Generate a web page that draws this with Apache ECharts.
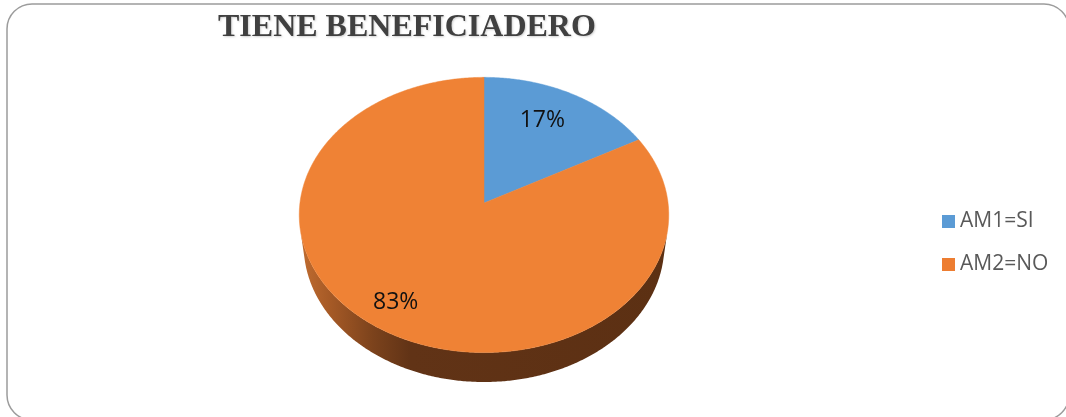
<!DOCTYPE html>
<html><head><meta charset="utf-8">
<script src="https://cdn.jsdelivr.net/npm/echarts@6/dist/echarts.min.js"></script>
<style>html,body{margin:0;padding:0;background:#fff}#c{width:1066px;height:417px}</style>
</head><body><div id="c"></div>
<script>
const TITLE = 'TIENE BENEFICIADERO';
const CATEGORIES = ['AM1=SI', 'AM2=NO'];
const VALUES = [17, 83];

// style / layout (not data)
const TOP_COLORS = ['#5B9BD5', '#EF8235'];
const LEGEND_COLORS = ['#5B9BD5', '#ED7D31'];
const SIDE_STOPS = [
  [{offset:0,color:'#3f6d98'},{offset:1,color:'#2c4d6c'}],
  [{offset:0,color:'#C06C30'},{offset:0.08,color:'#A65A26'},{offset:0.2,color:'#7B421C'},{offset:0.3,color:'#613316'},{offset:1,color:'#5C3013'}]
];
const LABEL_LAYOUT = [[0.72, -2.9], [0.82, 2.8]]; // radius fraction, angle offset (deg)

// perspective projection of a tilted disc
const CX = 484, CY = 203, F = 1419, D = 7.71, H = 0.2533;
const PHI = 47.9 * Math.PI / 180, C = Math.cos(PHI), S = Math.sin(PHI);
function proj(th, r, y) {
  const X = r * Math.sin(th), Z = r * Math.cos(th);
  const yc = y * C + Z * S, zc = D + Z * C - y * S;
  return [CX + F * X / zc, CY - F * yc / zc];
}
const TOTAL = VALUES.reduce((a, b) => a + b, 0);
const TV1 = Math.acos(-1 / (D * C)), TV2 = 2 * Math.PI - TV1;

function arc(a, b, r, y) {
  const pts = [];
  const n = Math.max(2, Math.ceil(Math.abs(b - a) / (Math.PI / 360)));
  for (let k = 0; k <= n; k++) pts.push(proj(a + (b - a) * k / n, r, y));
  return pts;
}

function makeRender(i) {
  return function (params, api) {
    const v = api.value(0);
    let s = 0; for (let k = 0; k < i; k++) s += VALUES[k];
    const a = s / TOTAL * 2 * Math.PI, b = (s + v) / TOTAL * 2 * Math.PI;
    const children = [];
    const lo = Math.max(a, TV1), hi = Math.min(b, TV2);
    if (lo < hi) {
      const side = arc(lo, hi, 1, 0).concat(arc(hi, lo, 1, -H));
      children.push({
        type: 'polygon', z2: 1,
        shape: { points: side },
        style: { fill: new echarts.graphic.LinearGradient(0, 0, 1, 0, SIDE_STOPS[i]), stroke: null }
      });
    }
    const top = [proj(0, 0, 0)].concat(arc(a, b, 1, 0));
    children.push({
      type: 'polygon', z2: 10,
      shape: { points: top },
      style: { fill: TOP_COLORS[i], stroke: TOP_COLORS[i], lineWidth: 0.5 }
    });
    const mid = (a + b) / 2 + LABEL_LAYOUT[i][1] * Math.PI / 180;
    const p = proj(mid, LABEL_LAYOUT[i][0], 0);
    children.push({
      type: 'text', z2: 20,
      x: p[0], y: p[1],
      style: {
        text: Math.round(v / TOTAL * 100) + '%',
        fill: '#111', font: '23px "Open Sans"',
        align: 'center', verticalAlign: 'middle'
      }
    });
    return { type: 'group', children: children };
  };
}

const chart = echarts.init(document.getElementById('c'), null, { renderer: 'canvas' });
chart.setOption({
  animation: false,
  backgroundColor: '#fff',
  title: {
    text: TITLE, left: 218, top: 12, padding: 0,
    textStyle: {
      fontFamily: 'Liberation Serif', fontWeight: 'bold', fontSize: 32, color: '#404040',
      textShadowColor: 'rgba(0,0,0,0.18)', textShadowBlur: 2, textShadowOffsetX: 1, textShadowOffsetY: 1
    }
  },
  legend: {
    data: CATEGORIES, orient: 'vertical', left: 942, top: 211,
    itemWidth: 13, itemHeight: 13, itemGap: 22, icon: 'rect', padding: 0,
    textStyle: { fontFamily: 'Open Sans', fontSize: 21, color: '#595959', lineHeight: 21 }
  },
  graphic: [{
    type: 'rect', z: -1, silent: true,
    shape: { x: 7, y: 4, width: 1062, height: 416, r: 25 },
    style: { fill: null, stroke: '#9c9c9c', lineWidth: 1.5 }
  }],
  series: CATEGORIES.map((name, i) => ({
    type: 'custom', name: name, coordinateSystem: 'none',
    itemStyle: { color: LEGEND_COLORS[i] },
    data: [[VALUES[i]]],
    renderItem: makeRender(i)
  }))
});
</script></body></html>
